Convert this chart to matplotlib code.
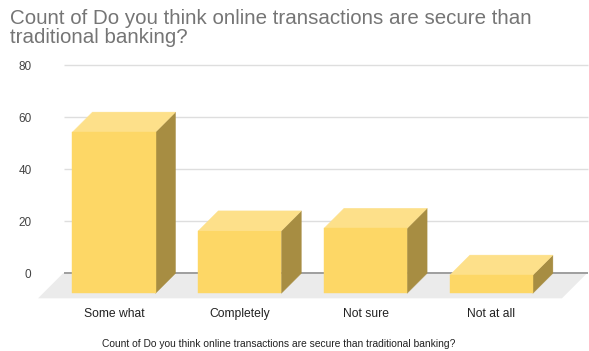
import matplotlib
matplotlib.use("Agg")
import matplotlib.pyplot as plt
from matplotlib.patches import Polygon

plt.rcParams['font.family'] = ['Liberation Sans', 'DejaVu Sans']

# Data
categories = ["Some what", "Completely", "Not sure", "Not at all"]
counts = [62, 24, 25, 7]
y_ticks = [0, 20, 40, 60, 80]
title = "Count of Do you think online transactions are secure than\ntraditional banking?"
x_title = "Count of Do you think online transactions are secure than traditional banking?"

# Styling
FRONT = "#FDD766"
TOP = "#FDE08A"
SIDE = "#A78D42"
FLOOR = "#EBEBEB"
GRID = "#DEDEDE"
BASE = "#9E9E9E"

W, H, DPI = 589, 351, 100
fig = plt.figure(figsize=(W / DPI, H / DPI), dpi=DPI)

# axes box in pixels (left, top, right, bottom)
px_l, px_r = 35, 590
px_top, px_bot = 60.1, 299.3
ax = fig.add_axes([px_l / W, 1 - px_bot / H, (px_r - px_l) / W, (px_bot - px_top) / H])
ax.set_ylim(-10, 82)
ax.set_xlim(-0.628, 3.784)
for s in ax.spines.values():
    s.set_visible(False)

# 3D projection offsets (data units)
unit_x_px = 125.8
unit_y_px = (px_bot - px_top) / 92
bar_w = 0.66
dx = 20 / unit_x_px
dy = 20 / unit_y_px
fdx = 25 / unit_x_px
fdy = 25 / unit_y_px

# Floor
fx0, fx1 = -0.405, 3.76
ax.add_patch(Polygon([(fx0, 0), (fx1, 0), (fx1 - fdx, -fdy), (fx0 - fdx, -fdy)],
                     closed=True, facecolor=FLOOR, edgecolor='none', zorder=1))

# Gridlines on the back wall
gx0, gx1 = -0.397, 3.77
for t in y_ticks:
    if t == 0:
        ax.hlines(t, gx0, gx1, color=BASE, lw=1.4, zorder=2)
    else:
        ax.hlines(t, gx0, gx1, color=GRID, lw=1.0, zorder=2)

# Bars
for i, v in enumerate(counts):
    l, r = i - bar_w / 2, i + bar_w / 2
    front = [(l, -dy), (r, -dy), (r, v - dy), (l, v - dy)]
    top = [(l, v - dy), (r, v - dy), (r + dx, v), (l + dx, v)]
    side = [(r, -dy), (r + dx, 0), (r + dx, v), (r, v - dy)]
    ax.add_patch(Polygon(side, closed=True, facecolor=SIDE, edgecolor=SIDE, lw=0.3, zorder=3))
    ax.add_patch(Polygon(top, closed=True, facecolor=TOP, edgecolor=TOP, lw=0.3, zorder=3))
    ax.add_patch(Polygon(front, closed=True, facecolor=FRONT, edgecolor=FRONT, lw=0.3, zorder=4))

# Y tick labels
ax.set_yticks(y_ticks)
ax.set_yticklabels([str(t) for t in y_ticks], color="#444444", fontsize=8.5)
ax.tick_params(axis='y', length=0, pad=2.5)

# Category labels, centred under the front faces
ax.set_xticks(range(len(categories)))
ax.set_xticklabels(categories, color="#222222", fontsize=8.7)
ax.tick_params(axis='x', length=0, pad=6)

# Titles
fig.text(10 / W, 1 - 9 / H, title, ha='left', va='top', fontsize=14.8,
         color="#757575", linespacing=1.0)
fig.text(279 / W, 1 - 344 / H, x_title, ha='center', va='center',
         fontsize=7.4, color="#222222")

fig.savefig("out.png", dpi=DPI)
